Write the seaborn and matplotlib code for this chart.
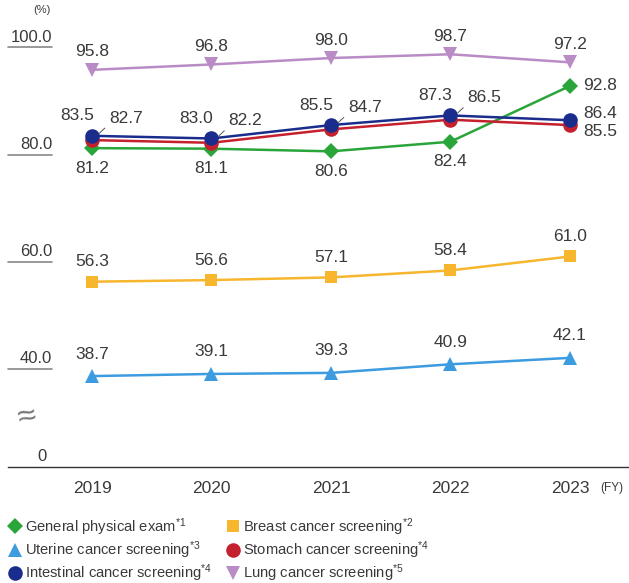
import matplotlib
matplotlib.use("Agg")
import matplotlib.pyplot as plt
import matplotlib.transforms as mtransforms
from matplotlib.lines import Line2D
import seaborn as sns
import pandas as pd

years = [2019, 2020, 2021, 2022, 2023]
general = [81.2, 81.1, 80.6, 82.4, 92.8]
breast = [56.3, 56.6, 57.1, 58.4, 61.0]
uterine = [38.7, 39.1, 39.3, 40.9, 42.1]
stomach = [82.7, 82.2, 84.7, 86.5, 85.5]
intestinal = [83.5, 83.0, 85.5, 87.3, 86.4]
lung = [95.8, 96.8, 98.0, 98.7, 97.2]

names = ["General physical exam", "Breast cancer screening", "Uterine cancer screening",
         "Stomach cancer screening", "Intestinal cancer screening", "Lung cancer screening"]
notes = ["*1", "*2", "*3", "*4", "*4", "*5"]
y_ticks = [40, 60, 80, 100]
y_tick_labels = ["40.0", "60.0", "80.0", "100.0"]

colors = {"General physical exam": "#2aa53a", "Breast cancer screening": "#f7b62e",
          "Uterine cancer screening": "#3d9be0", "Stomach cancer screening": "#c4202e",
          "Intestinal cancer screening": "#1a2d8c", "Lung cancer screening": "#b98cc6"}
markers = {"General physical exam": ("D", 8), "Breast cancer screening": ("s", 9),
           "Uterine cancer screening": ("^", 10), "Stomach cancer screening": ("o", 10.5),
           "Intestinal cancer screening": ("o", 10.5), "Lung cancer screening": ("v", 10)}

df = pd.DataFrame({
    "year": years * 6,
    "value": general + breast + uterine + stomach + intestinal + lung,
    "series": [n for n in names for _ in years],
})

sns.set_style("white")
plt.rcParams["font.family"] = ["Liberation Sans", "DejaVu Sans"]
plt.rcParams["mathtext.default"] = "regular"

fig = plt.figure(figsize=(6.29, 5.83), dpi=100)
ax = fig.add_axes([8 / 629, 1 - 467 / 583, 621 / 629, (467 - 28) / 583])

draw_order = ["Breast cancer screening", "Uterine cancer screening", "Lung cancer screening",
              "General physical exam", "Stomach cancer screening", "Intestinal cancer screening"]
for name in draw_order:
    sub = df[df["series"] == name]
    m, ms = markers[name]
    sns.lineplot(data=sub, x="year", y="value", color=colors[name], marker=m,
                 markersize=ms, markeredgewidth=0, linewidth=1.8, ax=ax, legend=False)

ax.set_xlim(2018.297, 2023.494)
ax.set_ylim(21.75, 103.6)

txt = "#3a3a3a"
px = 72 / 100  # pixels -> points


def label(x, y, s, dx, dy, ha="center"):
    ax.annotate(s, (x, y), xytext=(dx * px, dy * px), textcoords="offset points",
                ha=ha, va="center", fontsize=12.5, color=txt)


for i, yr in enumerate(years):
    label(yr, lung[i], f"{lung[i]:.1f}", 0, 18)
    label(yr, breast[i], f"{breast[i]:.1f}", 0, 20)
    label(yr, uterine[i], f"{uterine[i]:.1f}", 0, 22)
    if yr < 2023:
        label(yr, general[i], f"{general[i]:.1f}", 0, -20)
        label(yr, intestinal[i], f"{intestinal[i]:.1f}", -15, 20)
        ax.annotate(f"{stomach[i]:.1f}", (yr, stomach[i]), xytext=(34 * px, 22 * px),
                    textcoords="offset points", ha="center", va="center",
                    fontsize=12.5, color=txt,
                    arrowprops=dict(arrowstyle="-", color="#555555", lw=0.7,
                                    relpos=(0, 0.1), shrinkA=1, shrinkB=7))
    else:
        label(yr, general[i], f"{general[i]:.1f}", 13, 0, ha="left")
        label(yr, intestinal[i], f"{intestinal[i]:.1f}", 13, 7, ha="left")
        label(yr, stomach[i], f"{stomach[i]:.1f}", 13, -6, ha="left")

# y labels with underline
trans = mtransforms.blended_transform_factory(ax.transAxes, ax.transData)
for v, s in zip(y_ticks, y_tick_labels):
    ax.plot([0, 0.071], [v, v], color="#888888", lw=1.2, transform=trans, clip_on=False)
    ax.text(0.071, v + 0.5, s, transform=trans, ha="right", va="bottom",
            fontsize=12, color=txt)
ax.text(0.062, 22.3, "0", transform=trans, ha="right", va="bottom", fontsize=12, color=txt)
ax.text(0.03, 30.9, "≈", transform=trans, ha="center", va="center", fontsize=24,
        color="#777777", rotation=12)
ax.text(0.068, 106.0, "(%)", transform=trans, ha="right", va="bottom", fontsize=8,
        color=txt)

ax.set_yticks([])
ax.set_xticks(years)
ax.set_xticklabels([str(y) for y in years], fontsize=12.5, color=txt)
ax.tick_params(axis="x", length=0, pad=10)
ax.set_xlabel("")
ax.set_ylabel("")
for side in ["top", "right", "left"]:
    ax.spines[side].set_visible(False)
ax.spines["bottom"].set_color("#333333")
ax.spines["bottom"].set_linewidth(1.0)
fig.text(600 / 629, 1 - 488 / 583, "(FY)", ha="left", va="center", fontsize=8.5, color=txt)

# legend
legend_order = [0, 2, 4, 1, 3, 5]
handles = []
labels = []
for k in legend_order:
    n = names[k]
    m, ms = markers[n]
    handles.append(Line2D([], [], linestyle="none", marker=m, markersize=ms,
                          color=colors[n], markeredgewidth=0))
    labels.append(n + "$^{" + notes[k] + "}$")
fig.legend(handles, labels, loc="upper left", bbox_to_anchor=(8 / 629, 1 - 516 / 583),
           ncol=2, frameon=False, fontsize=10.6, handlelength=0.9, handletextpad=0.25,
           columnspacing=0.95, labelspacing=0.1, borderaxespad=0, borderpad=0,
           labelcolor=txt)

fig.savefig("out.png", dpi=100)
